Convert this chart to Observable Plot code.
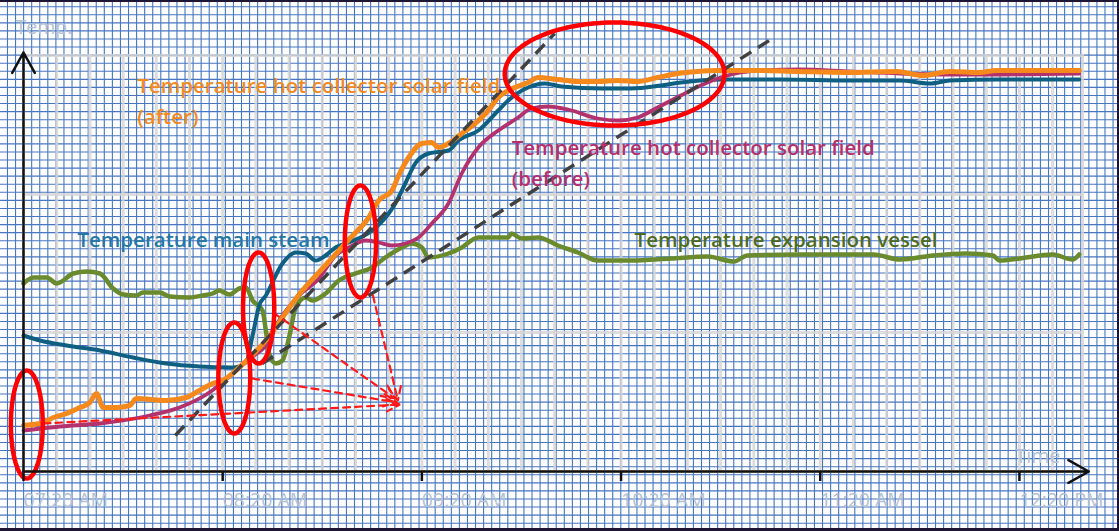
<!DOCTYPE html>
<html>
<head>
<meta charset="utf-8">
<script src="https://cdn.jsdelivr.net/npm/d3@7"></script>
<script src="https://cdn.jsdelivr.net/npm/@observablehq/plot@0.6"></script>
<style>
  html, body { margin: 0; padding: 0; background: #fff; }
  #chart {
    position: relative; width: 1119px; height: 531px; overflow: hidden;
    background-color: #fff;
  }
  #chart svg { position: absolute; left: 0; top: 0; }
</style>
</head>
<body>
<div id="chart"></div>
<script>
// ---------- data (time of day, temperature) ----------
const expansionVessel = [
  ["07:20",188],["07:23",194],["07:27",194],["07:30",188],["07:35",198],["07:39",200],["07:43",198],
  ["07:47",183],["07:50",177],["07:54",176],["07:56",179],["08:01",179],["08:04",175],["08:10",174],
  ["08:14",176],["08:17",178],["08:19",181],["08:22",177],["08:25",183],["08:27",184],["08:29",171],
  ["08:32",161],["08:33",141],["08:34",118],["08:36",108],["08:38",111],["08:40",134],["08:42",164],
  ["08:45",174],["08:47",171],["08:51",178],["08:55",191],["09:00",198],["09:05",204],["09:09",214],
  ["09:14",224],["09:17",228],["09:20",224],["09:22",214],["09:28",218],["09:32",224],["09:37",234],
  ["09:46",234],["09:47",238],["09:50",233],["09:55",234],["10:01",226],["10:07",219],["10:13",211],
  ["10:23",211],["10:35",213],["10:46",215],["10:54",210],["10:58",216],["11:14",217],["11:36",217],
  ["11:44",212],["11:54",216],["12:04",218],["12:12",216],["12:14",211],["12:20",213],["12:30",217],
  ["12:36",212],["12:38",217]
];
const mainSteam = [
  ["07:20",136],["07:25",131],["07:33",126],["07:43",121],["07:53",114],["08:03",108],["08:13",105],
  ["08:23",104],["08:27",109],["08:29",136],["08:31",166],["08:33",176],["08:38",208],["08:42",219],
  ["08:45",218],["08:48",211],["08:51",216],["08:54",224],["08:58",229],["09:05",241],["09:10",258],
  ["09:12",268],["09:15",288],["09:18",308],["09:22",318],["09:28",321],["09:31",331],["09:37",341],
  ["09:43",361],["09:46",371],["09:52",384],["09:57",388],["10:02",385],["10:14",383],["10:23",383],
  ["10:32",386],["10:38",389],["10:50",392],["11:08",392],["11:29",391],["11:44",391],["11:53",388],
  ["11:59",391],["12:14",392],["12:38",392]
];
const hotCollectorBefore = [
  ["07:20",41],["07:31",45],["07:43",48],["07:58",56],["08:07",64],["08:16",79],["08:22",95],
  ["08:28",113],["08:33",126],["08:37",151],["08:43",176],["08:49",193],["08:54",216],["08:58",224],
  ["09:03",231],["09:07",229],["09:11",226],["09:15",228],["09:19",234],["09:23",248],["09:28",268],
  ["09:32",298],["09:37",324],["09:43",341],["09:49",354],["09:53",363],["09:58",365],["10:04",362],
  ["10:13",353],["10:19",351],["10:25",354],["10:31",364],["10:38",376],["10:44",386],["10:50",394],
  ["10:56",399],["11:02",401],["11:14",402],["11:29",400],["11:44",398],["11:59",397],["12:14",397],
  ["12:38",398]
];
const hotCollectorAfter = [
  ["07:20",46],["07:26",49],["07:29",54],["07:33",58],["07:37",64],["07:40",69],["07:42",78],
  ["07:44",64],["07:48",64],["07:52",66],["07:54",73],["08:03",71],["08:09",74],["08:13",81],
  ["08:17",88],["08:20",91],["08:25",104],["08:33",131],["08:43",177],["08:52",210],["08:58",232],
  ["09:04",254],["09:07",271],["09:11",281],["09:13",296],["09:16",314],["09:20",328],["09:23",329],
  ["09:25",324],["09:28",328],["09:32",338],["09:36",348],["09:40",361],["09:43",374],["09:48",384],
  ["09:52",389],["09:55",394],["10:01",392],["10:07",390],["10:13",390],["10:19",391],["10:25",390],
  ["10:31",394],["10:37",398],["10:43",400],["10:49",401],["11:01",401],["11:13",400],["11:28",399],
  ["11:43",400],["11:51",396],["11:59",400],["12:08",399],["12:13",401],["12:25",401],["12:38",401]
];

// x axis ticks
const hourTicks  = ["07:20","08:20","09:20","10:20","11:20","12:20"];
const hourLabels = ["07:20 AM","08:20 AM","09:20 AM","10:20 AM","11:20 AM","12:20 PM"];
const xDomain = ["07:20","12:39"];
const yDomain = [0, 416];
const yGrid = [139, 277];

// series labels: text, anchor time, anchor temperature
const labelTexts = [
  "Temperature hot collector solar field\n(after)",
  "Temperature hot collector solar field\n(before)",
  "Temperature main steam",
  "Temperature expansion vessel"
];
const labelTimes = ["07:54:17","09:47:04","07:36:14","10:24:04"];
const labelTemps = [400, 338, 246, 246];

// annotation: red ellipses (center time, center temp, radius in minutes, radius in temp)
const ellipseTimes = ["07:21:00","08:23:30","08:30:50","09:01:30","10:18:03"];
const ellipseTemps = [47, 93.5, 163.5, 230, 397.5];
const ellipseRadiusMin = [4.8, 4.8, 4.7, 4.7, 33.1];
const ellipseRadiusTemp = [54, 55.5, 55.5, 56, 51.5];

// annotation: black dashed trend guides
const guideStart = [["08:05:43",36],["08:31:53",108]];
const guideEnd   = [["10:00:00",438],["11:05:34",433]];

// annotation: red dashed arrows
const redStart = [["07:26:01",48],["08:28:53",93],["08:35:11",159],["09:05:16",176]];
const redEnd   = [["09:13:24",67],["09:12:29",69],["09:11:53",73],["09:12:47",71]];

// axis arrows
const axisStart = [["07:20",0],["07:20",0]];
const axisEnd   = [["12:40:54",0],["07:20",419]];

// ---------- styles ----------
const colors = {
  vessel: "#6a8a2e", steam: "#0e5f82", before: "#b3326e", after: "#f5891c",
  vesselText: "#4f6b22", steamText: "#2477a5", beforeText: "#b52f6c", afterText: "#f28a22",
  axisText: "#b3c1d4"
};
const labelColors = [colors.afterText, colors.beforeText, colors.steamText, colors.vesselText];

// ---------- graph-paper background ----------
const W = 1119, H = 531, cell = 8.07;
const paper = d3.select("#chart").append("svg").attr("width", W).attr("height", H);
paper.append("g").attr("stroke", "#4675c2").attr("stroke-width", 1.1)
  .selectAll("line").data(d3.range(-0.6, W, cell)).join("line")
  .attr("x1", d => d).attr("x2", d => d).attr("y1", 0).attr("y2", H);
paper.append("g").attr("stroke", "#4675c2").attr("stroke-width", 1.1)
  .selectAll("line").data(d3.range(6.7, H, cell)).join("line")
  .attr("y1", d => d).attr("y2", d => d).attr("x1", 0).attr("x2", W);
paper.append("rect").attr("x", 0).attr("y", 0).attr("width", W).attr("height", 2).attr("fill", "#1d1533");
paper.append("rect").attr("x", 0).attr("y", H - 3).attr("width", W).attr("height", 3).attr("fill", "#1d1533");
paper.append("rect").attr("x", W - 2).attr("y", 0).attr("width", 2).attr("height", H).attr("fill", "#1d1533");

// ---------- build ----------
const T = s => { const [h, m, sec = 0] = s.split(":").map(Number); return new Date(2024, 0, 1, h, m, sec); };
const rows = pts => pts.map(([t, v]) => ({time: T(t), temp: v}));

const ellipsePts = [];
ellipseTimes.forEach((t, i) => {
  const c = +T(t);
  for (let k = 0; k <= 96; k++) {
    const a = 2 * Math.PI * k / 96;
    ellipsePts.push({id: i, time: new Date(c + ellipseRadiusMin[i] * 60000 * Math.cos(a)), temp: ellipseTemps[i] + ellipseRadiusTemp[i] * Math.sin(a)});
  }
});
const segs = (a, b) => a.map((p, i) => ({t1: T(p[0]), v1: p[1], t2: T(b[i][0]), v2: b[i][1]}));
const labelRows = labelTexts.map((text, i) => ({text, time: T(labelTimes[i]), temp: labelTemps[i], color: labelColors[i]}));
const labelMap = new Map(hourTicks.map((t, i) => [+T(t), hourLabels[i]]));
const tenMin = d3.timeMinute.every(10).range(T(xDomain[0]), T(xDomain[1]));

const gridStyle = {stroke: "#d4d4d4", strokeOpacity: 0.8, strokeWidth: 3};
const lineOpts = {x: "time", y: "temp", curve: "monotone-x", strokeLinejoin: "round", strokeLinecap: "round"};

const chart = Plot.plot({
  width: W, height: H,
  marginLeft: 23, marginRight: 37, marginTop: 55, marginBottom: 60,
  style: {background: "transparent", overflow: "visible", fontFamily: "'Open Sans', sans-serif"},
  x: {type: "time", domain: xDomain.map(T)},
  y: {domain: yDomain, axis: null},
  marks: [
    Plot.gridX({ticks: tenMin, ...gridStyle}),
    Plot.gridY({ticks: yGrid, ...gridStyle}),
    Plot.frame({...gridStyle}),
    Plot.line(rows(expansionVessel), {...lineOpts, stroke: colors.vessel, strokeWidth: 4.5}),
    Plot.line(rows(mainSteam), {...lineOpts, stroke: colors.steam, strokeWidth: 4}),
    Plot.line(rows(hotCollectorBefore), {...lineOpts, stroke: colors.before, strokeWidth: 3.8}),
    Plot.line(rows(hotCollectorAfter), {...lineOpts, stroke: colors.after, strokeWidth: 5}),
    Plot.link(segs(guideStart, guideEnd), {x1: "t1", y1: "v1", x2: "t2", y2: "v2", stroke: "#414141", strokeWidth: 3.5, strokeDasharray: "13,8"}),
    Plot.arrow(segs(redStart, redEnd), {x1: "t1", y1: "v1", x2: "t2", y2: "v2", stroke: "#ff1a1a", strokeWidth: 2.2, strokeDasharray: "7,5", headLength: 10, headAngle: 50}),
    Plot.line(ellipsePts, {x: "time", y: "temp", z: "id", stroke: "#ff0000", strokeWidth: 4.5, curve: "linear"}),
    Plot.arrow(segs(axisStart, axisEnd), {x1: "t1", y1: "v1", x2: "t2", y2: "v2", stroke: "#111", strokeWidth: 2.5, headLength: 14, headAngle: 58}),
    Plot.axisX({ticks: hourTicks.map(T), tickFormat: d => labelMap.get(+d), tickSize: 10, tickPadding: 12,
      textAnchor: "start", fontSize: 19.5, fill: colors.axisText, stroke: "#111", strokeWidth: 2.5, label: null}),
    ...labelRows.map(r => Plot.text([r], {x: "time", y: "temp", text: "text", fill: r.color,
      textAnchor: "start", lineAnchor: "top", fontSize: 20.5, fontWeight: 600, lineHeight: 1.5})),
    Plot.text(["Temp."], {text: d => d, frameAnchor: "top-left", dx: -8, dy: -28, textAnchor: "start", lineAnchor: "middle", fontSize: 19.5, fill: colors.axisText}),
    Plot.text(["Time"], {text: d => d, frameAnchor: "bottom-right", dx: -67, dy: -15, textAnchor: "start", lineAnchor: "middle", fontSize: 19.5, fill: colors.axisText})
  ]
});
document.getElementById("chart").appendChild(chart);
</script>
</body>
</html>
